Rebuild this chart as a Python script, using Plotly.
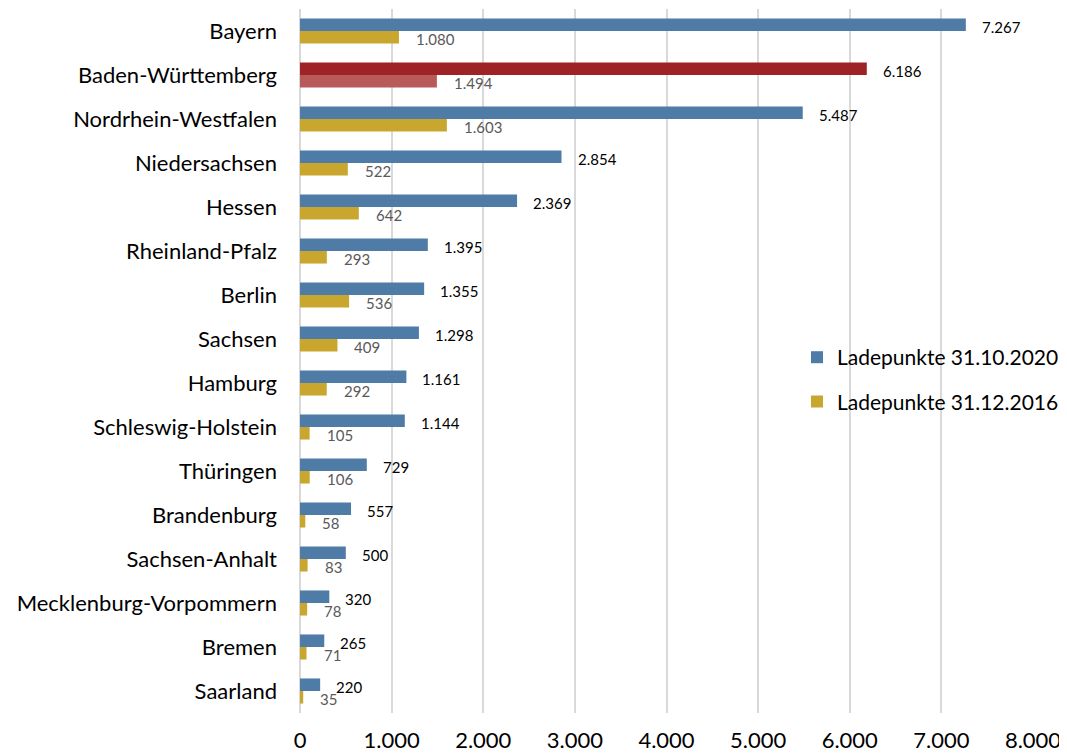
import plotly.graph_objects as go

states = ["Bayern", "Baden-Württemberg", "Nordrhein-Westfalen", "Niedersachsen", "Hessen",
          "Rheinland-Pfalz", "Berlin", "Sachsen", "Hamburg", "Schleswig-Holstein", "Thüringen",
          "Brandenburg", "Sachsen-Anhalt", "Mecklenburg-Vorpommern", "Bremen", "Saarland"]
v2020 = [7267, 6186, 5487, 2854, 2369, 1395, 1355, 1298, 1161, 1144, 729, 557, 500, 320, 265, 220]
v2016 = [1080, 1494, 1603, 522, 642, 293, 536, 409, 292, 105, 106, 58, 83, 78, 71, 35]
xticks = [0, 1000, 2000, 3000, 4000, 5000, 6000, 7000, 8000]
highlight = "Baden-Württemberg"

BLUE = "#4F7CA6"
GOLD = "#C9A72F"
RED = "#9E2327"
LRED = "#B85A59"
FONT = "Lato, 'Open Sans', sans-serif"


def de(n):
    return f"{n:,}".replace(",", ".")


c20 = [RED if s == highlight else BLUE for s in states]
c16 = [LRED if s == highlight else GOLD for s in states]

fig = go.Figure()
fig.add_trace(go.Bar(y=states, x=v2020, orientation="h", name="Ladepunkte 31.10.2020",
                     marker=dict(color=c20, line=dict(width=0)), legendgroup="a"))
fig.add_trace(go.Bar(y=states, x=v2016, orientation="h", name="Ladepunkte 31.12.2016",
                     marker=dict(color=c16, line=dict(width=0)), legendgroup="b"))

for s, a, b in zip(states, v2020, v2016):
    fig.add_annotation(x=a, y=s, text=de(a), showarrow=False, xanchor="left", yanchor="middle",
                       xshift=14, yshift=4, font=dict(size=15, color="#000000", family=FONT))
    fig.add_annotation(x=b, y=s, text=de(b), showarrow=False, xanchor="left", yanchor="middle",
                       xshift=15, yshift=-8, font=dict(size=15, color="#595959", family=FONT))

fig.update_layout(
    width=1067, height=754,
    margin=dict(l=292, r=42, t=1, b=49, autoexpand=False),
    barmode="group", bargap=0.43, bargroupgap=0,
    plot_bgcolor="white", paper_bgcolor="white",
    font=dict(family=FONT, size=22, color="#000000"),
    legend=dict(x=0.678, y=0.534, xanchor="left", yanchor="top", font=dict(size=21),
                tracegroupgap=14, bgcolor="rgba(0,0,0,0)"),
    xaxis=dict(range=[0, 8000], tickvals=xticks, ticktext=[de(t) for t in xticks],
               showgrid=True, gridcolor="#D9D9D9", gridwidth=2, zeroline=True,
               zerolinecolor="#D9D9D9", zerolinewidth=2, showline=False,
               automargin=False, ticks="", ticklabelstandoff=12,
               tickfont=dict(size=22)),
    yaxis=dict(autorange="reversed", showgrid=False, showline=False, automargin=False,
               ticks="", ticklabelstandoff=22, tickfont=dict(size=22)),
)

fig.write_html("out.html")
